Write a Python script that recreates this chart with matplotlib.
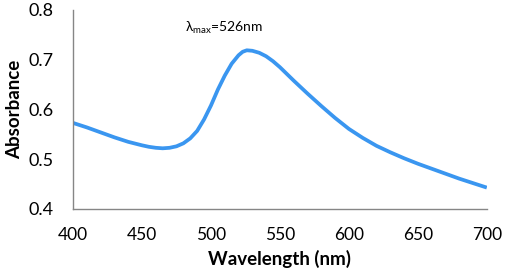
import matplotlib
matplotlib.use("Agg")
import matplotlib.pyplot as plt

wavelength = [400, 410, 420, 430, 440, 450, 455, 460, 465, 470, 475, 480, 485, 490, 495, 500,
              505, 510, 515, 520, 523, 526, 530, 535, 540, 545, 550, 560, 570, 580, 590,
              600, 610, 620, 630, 640, 650, 660, 670, 680, 690, 700]
absorbance = [0.573, 0.564, 0.554, 0.544, 0.535, 0.528, 0.525, 0.523, 0.522, 0.523, 0.526,
              0.532, 0.542, 0.557, 0.580, 0.608, 0.640, 0.668, 0.692, 0.709, 0.716, 0.719,
              0.718, 0.714, 0.707, 0.697, 0.685, 0.658, 0.632, 0.607, 0.583, 0.561, 0.543,
              0.527, 0.514, 0.502, 0.491, 0.481, 0.471, 0.461, 0.452, 0.443]
xticks = [400, 450, 500, 550, 600, 650, 700]
yticks = [0.4, 0.5, 0.6, 0.7, 0.8]

plt.rcParams['font.family'] = ['Lato', 'DejaVu Sans']

fig = plt.figure(figsize=(5.05, 2.8), dpi=100)
ax = fig.add_axes([0.1446, 0.2536, 0.8194, 0.7107])
ax.plot(wavelength, absorbance, color='#3A96F0', lw=2.7, solid_capstyle='butt',
        solid_joinstyle='round')
ax.set_xlim(400, 700)
ax.set_ylim(0.4, 0.8)
ax.set_xticks(xticks)
ax.set_xticklabels([str(t) for t in xticks])
ax.set_yticks(yticks)
ax.set_yticklabels([f"{t:.1f}" for t in yticks])
ax.tick_params(axis='x', length=0, labelsize=12.5, colors='#000000', pad=13)
ax.tick_params(axis='y', length=0, labelsize=13, colors='#000000', pad=14)
for s in ['top', 'right']:
    ax.spines[s].set_visible(False)
for s in ['left', 'bottom']:
    ax.spines[s].set_color('#868686')
    ax.spines[s].set_linewidth(1.0)
ax.set_xlabel('Wavelength (nm)', fontsize=13.5, fontweight='bold', labelpad=5)
ax.set_ylabel('Absorbance', fontsize=13.5, fontweight='bold', labelpad=4)
ax.text(481, 0.765, r'λ$_{\mathregular{max}}$=526nm', fontsize=10, va='center', ha='left')
fig.savefig('out.png', dpi=100)
